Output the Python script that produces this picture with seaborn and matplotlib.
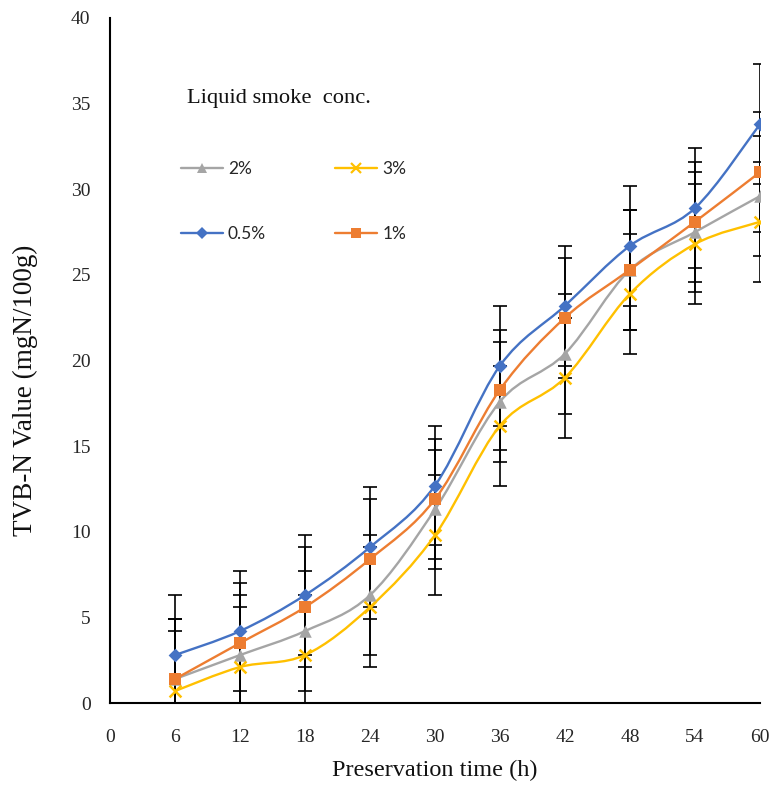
import numpy as np
import pandas as pd
import matplotlib
matplotlib.use("Agg")
import matplotlib.pyplot as plt
import seaborn as sns
from matplotlib.path import Path
from matplotlib.patches import PathPatch
from matplotlib.lines import Line2D

# ---------------- data ----------------
time_h = [6, 12, 18, 24, 30, 36, 42, 48, 54, 60]
series_names = ["2%", "3%", "0.5%", "1%"]
tvbn_2 = [1.4, 2.8, 4.2, 6.3, 11.3, 17.6, 20.4, 25.3, 27.5, 29.6]
tvbn_3 = [0.7, 2.1, 2.8, 5.6, 9.8, 16.2, 19.0, 23.9, 26.8, 28.1]
tvbn_05 = [2.8, 4.2, 6.3, 9.1, 12.7, 19.7, 23.2, 26.7, 28.9, 33.8]
tvbn_1 = [1.4, 3.5, 5.6, 8.4, 11.9, 18.3, 22.5, 25.3, 28.1, 31.0]
err_2 = [3.5] * 10
err_3 = [3.5] * 10
err_05 = [3.5] * 10
err_1 = [3.5] * 10
x_ticks = list(range(0, 61, 6))
y_ticks = list(range(0, 41, 5))

values = {"2%": tvbn_2, "3%": tvbn_3, "0.5%": tvbn_05, "1%": tvbn_1}
errors = {"2%": err_2, "3%": err_3, "0.5%": err_05, "1%": err_1}

df = pd.concat(
    [pd.DataFrame({"time": time_h, "tvbn": values[n], "err": errors[n], "conc": n})
     for n in series_names],
    ignore_index=True,
)

# ---------------- style ----------------
sns.set_theme(style="white")
plt.rcParams["font.family"] = ["Liberation Serif", "DejaVu Serif"]

colors = {"2%": "#A5A5A5", "3%": "#FFC000", "0.5%": "#4472C4", "1%": "#ED7D31"}
markers = {"2%": "^", "3%": "x", "0.5%": "D", "1%": "s"}
msize = {"2%": 9, "3%": 8.5, "0.5%": 7, "1%": 8.5}

W, H = 770, 791
fig = plt.figure(figsize=(W / 100, H / 100), dpi=100)
ax = fig.add_axes([110 / W, 1 - 703 / H, 650 / W, 685 / H])


def smooth_path(xs, ys):
    pts = np.column_stack([xs, ys]).astype(float)
    n = len(pts)
    verts = [pts[0]]
    codes = [Path.MOVETO]
    for i in range(n - 1):
        p0 = pts[i - 1] if i > 0 else pts[i]
        p1 = pts[i]
        p2 = pts[i + 1]
        p3 = pts[i + 2] if i + 2 < n else pts[i + 1]
        c1 = p1 + (p2 - p0) / 6.0
        c2 = p2 - (p3 - p1) / 6.0
        verts += [c1, c2, p2]
        codes += [Path.CURVE4] * 3
    return Path(verts, codes)


for name in series_names:
    sub = df[df["conc"] == name]
    ax.errorbar(sub["time"], sub["tvbn"], yerr=sub["err"], fmt="none",
                ecolor="black", elinewidth=1.2, capsize=4.7, capthick=1.2, zorder=2)

for name in series_names:
    sub = df[df["conc"] == name]
    patch = PathPatch(smooth_path(sub["time"].values, sub["tvbn"].values),
                      facecolor="none", edgecolor=colors[name], lw=1.7, zorder=3)
    ax.add_patch(patch)
    if markers[name] == "x":
        sns.scatterplot(data=sub, x="time", y="tvbn", marker="x", color=colors[name],
                        s=msize[name] ** 2, linewidth=1.8, ax=ax, zorder=4, legend=False)
    else:
        sns.scatterplot(data=sub, x="time", y="tvbn", marker=markers[name],
                        color=colors[name], s=msize[name] ** 2, linewidth=0,
                        ax=ax, zorder=4, legend=False)

ax.set_xlim(0, 60)
ax.set_ylim(0, 40)
ax.set_xticks(x_ticks)
ax.set_yticks(y_ticks)
ax.tick_params(axis="x", direction="in", length=5, width=1.3, labelsize=14,
               pad=19, colors="black", labelcolor="#262626")
ax.tick_params(axis="y", direction="out", length=5, width=1.3, labelsize=14,
               pad=9, colors="black", labelcolor="#262626")
for s in ["top", "right"]:
    ax.spines[s].set_visible(False)
for s in ["left", "bottom"]:
    ax.spines[s].set_linewidth(1.5)
    ax.spines[s].set_color("black")
ax.grid(False)

ax.set_xlabel("Preservation time (h)", fontsize=17.5, labelpad=10, color="#111111")
ax.set_ylabel("TVB-N Value (mgN/100g)", fontsize=19.5, color="#111111")
ax.yaxis.set_label_coords(-0.111, 0.457)

# legend
fig.text(187 / W, 1 - 103 / H, "Liquid smoke  conc.", fontsize=16.2, ha="left",
         va="baseline", color="#111111")
order = ["2%", "0.5%", "3%", "1%"]
handles = [Line2D([0], [0], color=colors[n], lw=1.7, marker=markers[n],
                  markersize=msize[n] * 0.85, markeredgewidth=1.6 if markers[n] == "x" else 0)
           for n in order]
leg = fig.legend(handles, order, ncol=2, loc="upper left",
                 bbox_to_anchor=(181 / W, 1 - 161 / H), frameon=False,
                 prop={"family": "Lato", "size": 12.5}, handlelength=2.4,
                 handletextpad=0.3, columnspacing=4.0, labelspacing=2.85,
                 borderpad=0, borderaxespad=0)
for t in leg.get_texts():
    t.set_color("#262626")

fig.savefig("out.png", dpi=100)
